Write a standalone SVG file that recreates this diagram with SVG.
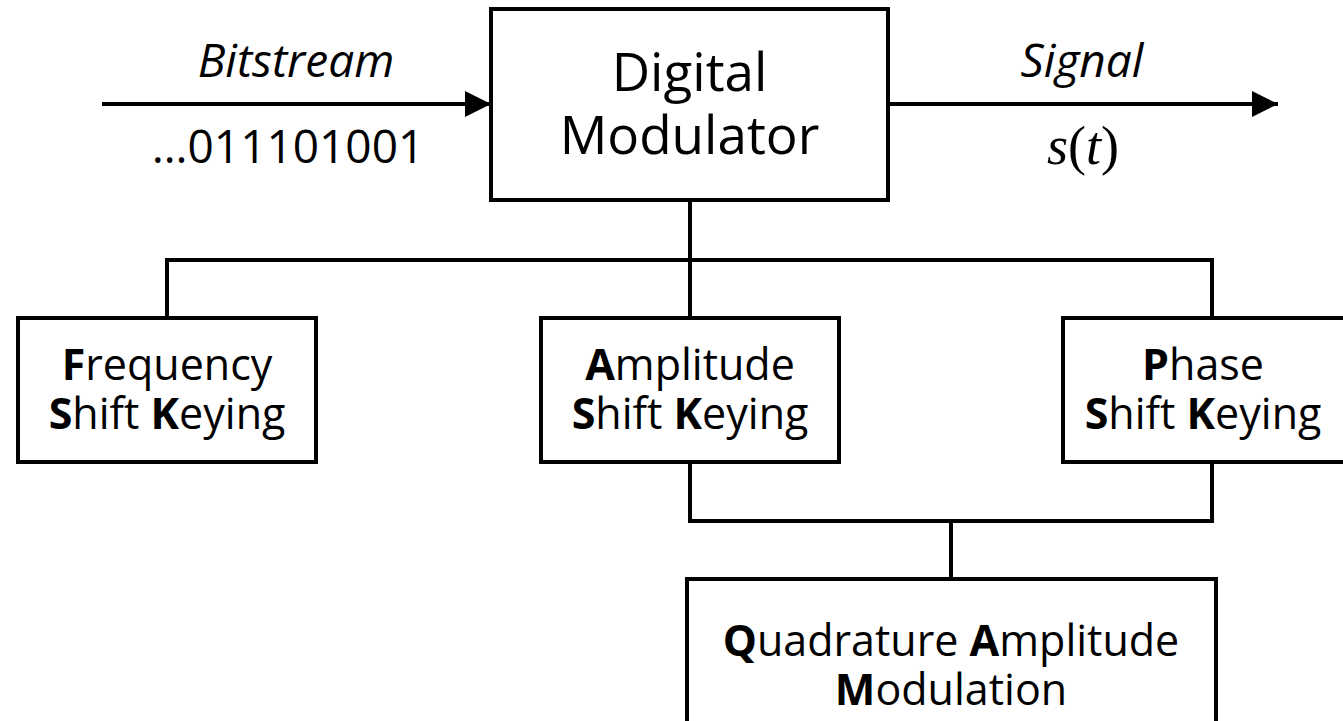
<svg xmlns="http://www.w3.org/2000/svg" width="1343" height="721" viewBox="0 0 1343 721">
  <style>
    .box { fill: #ffffff; stroke: #000000; stroke-width: 4; }
    .wire { fill: none; stroke: #000000; stroke-width: 4; }
    .lbl { font-family: "Open Sans", "Noto Sans", sans-serif; font-size: 43px; fill: #000000; text-anchor: middle; }
    .big { font-size: 53px; }
    .edge { font-size: 46px; }
    .it { font-style: italic; }
    .b { font-weight: bold; }
    .math { font-family: "Liberation Serif", "DejaVu Serif", serif; font-size: 54px; fill: #000000; text-anchor: middle; }
  </style>
  <defs>
    <marker id="arrow" markerUnits="userSpaceOnUse" markerWidth="28" markerHeight="28" refX="26" refY="13" orient="auto">
      <path d="M0,0 L26,13 L0,26 Z" fill="#000000"/>
    </marker>
  </defs>

  <g id="connectors">
    <line class="wire" x1="102" y1="104" x2="491" y2="104" marker-end="url(#arrow)"/>
    <line class="wire" x1="888" y1="104" x2="1278" y2="104" marker-end="url(#arrow)"/>
    <polyline class="wire" points="690,200 690,318"/>
    <polyline class="wire" points="167,318 167,260 1212,260 1212,318"/>
    <polyline class="wire" points="690,462 690,521 1212,521 1212,462"/>
    <polyline class="wire" points="951,521 951,579"/>
  </g>

  <g id="edge-labels">
    <text class="lbl edge it" x="296" y="77">Bitstream</text>
    <text class="lbl edge" x="288" y="163" font-size="47">…011101001</text>
    <text class="lbl edge it" x="1082" y="77">Signal</text>
    <text class="math" x="1083" y="164"><tspan font-style="italic">s</tspan>(<tspan font-style="italic">t</tspan>)</text>
  </g>

  <g id="digital-modulator">
    <rect class="box" x="491" y="9" width="397" height="191"/>
    <text class="lbl big" x="689.5" y="91">Digital</text>
    <text class="lbl big" x="689.5" y="154">Modulator</text>
  </g>

  <g id="fsk">
    <rect class="box" x="18" y="318" width="298" height="144"/>
    <text class="lbl" x="167" y="380"><tspan class="b">F</tspan>requency</text>
    <text class="lbl" x="167" y="429"><tspan class="b">S</tspan>hift <tspan class="b">K</tspan>eying</text>
  </g>

  <g id="ask">
    <rect class="box" x="541" y="318" width="298" height="144"/>
    <text class="lbl" x="690" y="380"><tspan class="b">A</tspan>mplitude</text>
    <text class="lbl" x="690" y="429"><tspan class="b">S</tspan>hift <tspan class="b">K</tspan>eying</text>
  </g>

  <g id="psk">
    <rect class="box" x="1063" y="318" width="284" height="144"/>
    <text class="lbl" x="1203" y="380"><tspan class="b">P</tspan>hase</text>
    <text class="lbl" x="1203" y="429"><tspan class="b">S</tspan>hift <tspan class="b">K</tspan>eying</text>
  </g>

  <g id="qam">
    <rect class="box" x="687" y="579" width="529" height="160"/>
    <text class="lbl" x="951" y="656"><tspan class="b">Q</tspan>uadrature <tspan class="b">A</tspan>mplitude</text>
    <text class="lbl" x="951" y="705"><tspan class="b">M</tspan>odulation</text>
  </g>
</svg>
